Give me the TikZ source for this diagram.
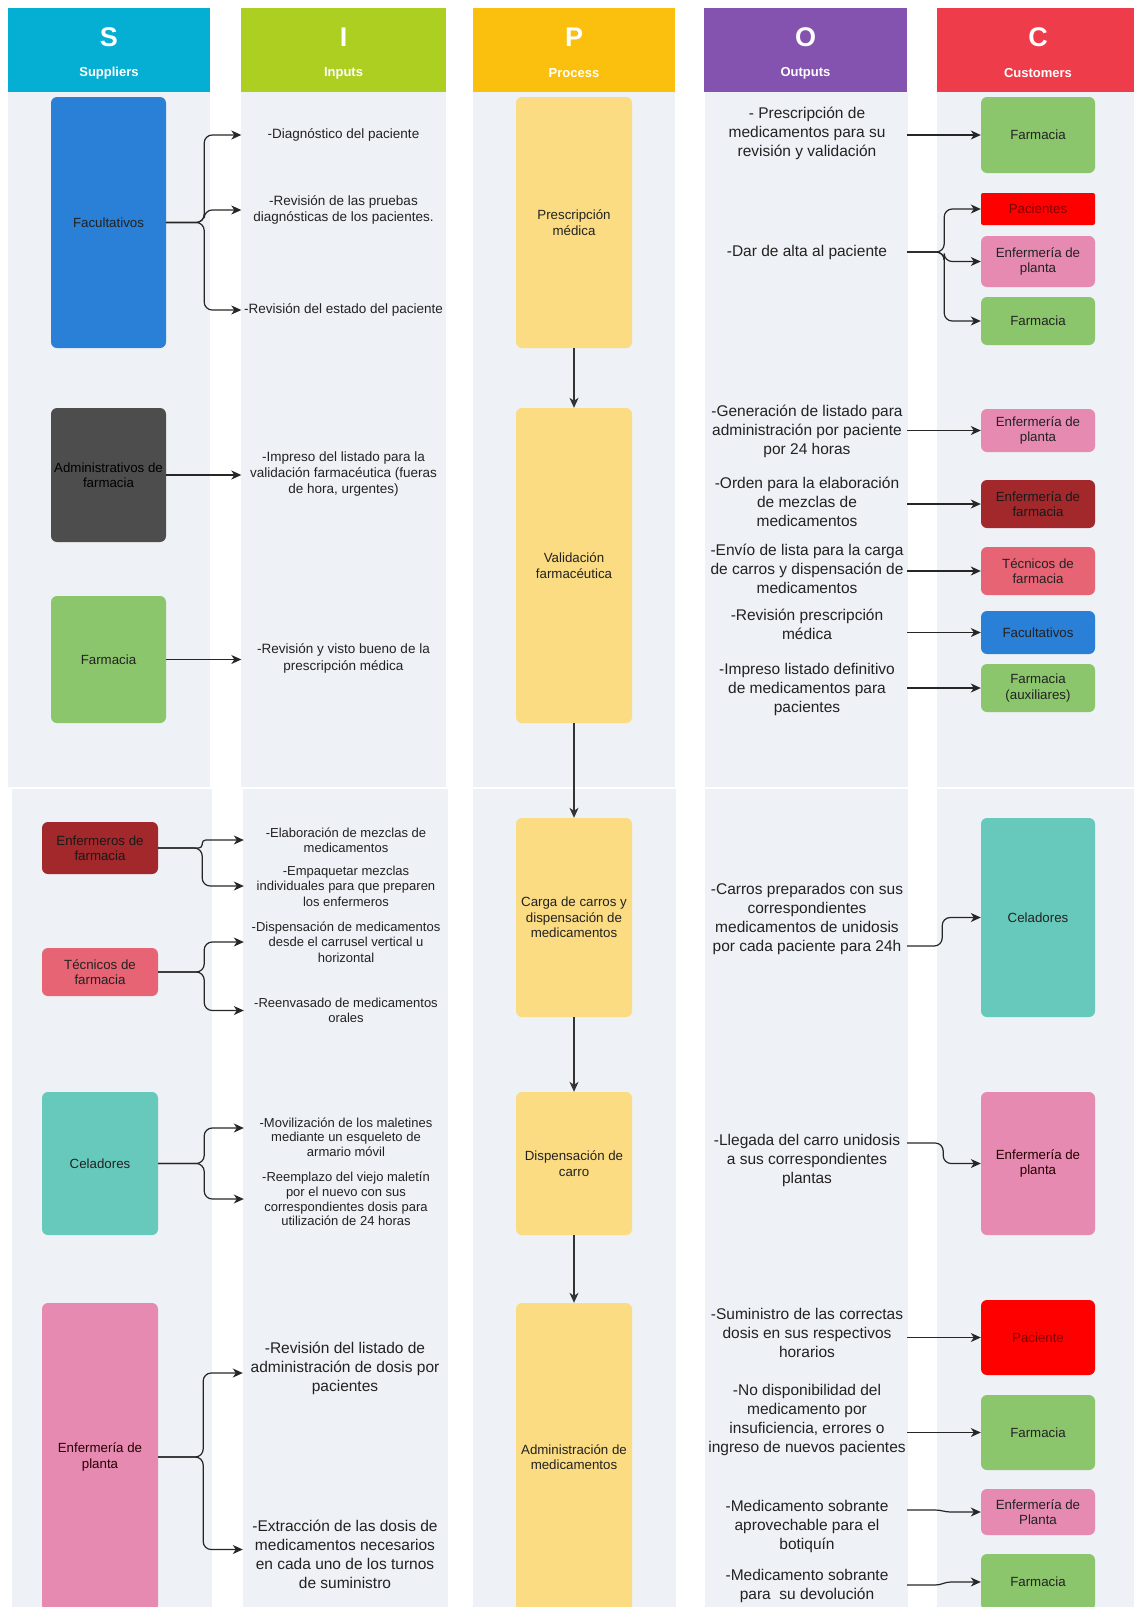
\documentclass[tikz,border=0pt]{standalone}
\usepackage{fontspec}
\setmainfont{Liberation Sans}
\usetikzlibrary{arrows.meta,calc}
\definecolor{cS}{HTML}{05AFD3}
\definecolor{cI}{HTML}{ADCF22}
\definecolor{cP}{HTML}{FBBF0E}
\definecolor{cO}{HTML}{8453B0}
\definecolor{cC}{HTML}{EF3C4A}
\definecolor{panelc}{HTML}{EEF1F5}
\definecolor{cblue}{HTML}{2A7FD6}
\definecolor{cdgray}{HTML}{4D4D4D}
\definecolor{cgreen}{HTML}{8CC66C}
\definecolor{cdred}{HTML}{A3282B}
\definecolor{ctred}{HTML}{E66474}
\definecolor{cteal}{HTML}{66C9BB}
\definecolor{cpink}{HTML}{E68AB2}
\definecolor{cyel}{HTML}{FBDC82}
\definecolor{cred}{HTML}{FF0000}
\definecolor{txt}{HTML}{222222}
\begin{document}
\begin{tikzpicture}[x=1pt,y=-1pt]
\tikzset{
 hdr/.style={rectangle, inner sep=0pt, minimum width=202pt, minimum height=84pt, draw=none},
 hletter/.style={text=white, font=\fontsize{27}{30}\selectfont\bfseries, inner sep=0pt},
 hlabel/.style={text=white, font=\fontsize{13}{15}\selectfont\bfseries, inner sep=0pt},
 box/.style={rectangle, rounded corners=6pt, inner sep=1pt, align=center, font=\fontsize{13.3}{15.5}\selectfont, text=txt, minimum width=115pt},
 intext/.style={align=center, inner sep=0pt, minimum width=204pt, font=\fontsize{13.5}{16.4}\selectfont, text=txt},
 intextb/.style={align=center, inner sep=0pt, minimum width=204pt, font=\fontsize{13}{15.4}\selectfont, text=txt},
 intextc/.style={align=center, inner sep=0pt, minimum width=204pt, font=\fontsize{13}{14.6}\selectfont, text=txt},
 intextd/.style={align=center, inner sep=0pt, minimum width=204pt, font=\fontsize{15.5}{19}\selectfont, text=txt},
 outtext/.style={align=center, inner sep=0pt, minimum width=200pt, font=\fontsize{15.5}{19}\selectfont, text=txt},
 conn/.style={draw=black!85, line width=1.2pt, -{Stealth[length=10pt,width=9pt,inset=3pt]}, rounded corners=8pt},
}
\useasboundingbox (0,0) rectangle (1134,1607);
\clip (0,0) rectangle (1134,1607);
% panels
\fill[panelc] (8,92) rectangle (210,787);
\fill[panelc] (241,92) rectangle (446,787);
\fill[panelc] (473,92) rectangle (675,787);
\fill[panelc] (705,92) rectangle (908,787);
\fill[panelc] (937,92) rectangle (1140,787);
\fill[panelc] (12,789) rectangle (212,1620);
\fill[panelc] (243,789) rectangle (448,1620);
\fill[panelc] (473,789) rectangle (676,1620);
\fill[panelc] (705,789) rectangle (908,1620);
\fill[panelc] (937,789) rectangle (1140,1620);
% headers
\node[hdr, fill=cS] (hS) at (109,50) {};
\node[hdr, fill=cI, minimum width=205pt] (hI) at (343.5,50) {};
\node[hdr, fill=cP] (hP) at (574,50) {};
\node[hdr, fill=cO, minimum width=203pt] (hO) at (805.5,50) {};
\node[hdr, fill=cC] (hC) at (1038,50) {};
\node[hletter] (lS) at ($(hS.center)+(0,-13)$) {S};
\node[hlabel] (tS) at ($(hS.center)+(0,23)$) {Suppliers};
\node[hletter] (lI) at ($(hI.center)+(0,-13)$) {I};
\node[hlabel] (tI) at ($(hI.center)+(0,23)$) {Inputs};
\node[hletter] (lP) at ($(hP.center)+(0,-13)$) {P};
\node[hlabel] (tP) at ($(hP.center)+(0,23)$) {Process};
\node[hletter] (lO) at ($(hO.center)+(0,-13)$) {O};
\node[hlabel] (tO) at ($(hO.center)+(0,23)$) {Outputs};
\node[hletter] (lC) at ($(hC.center)+(0,-13)$) {C};
\node[hlabel] (tC) at ($(hC.center)+(0,23)$) {Customers};
% suppliers
\node[box, fill=cblue, minimum height=251pt] (s1) at (108.5,222.5) {Facultativos};
\node[box, fill=cdgray, minimum height=134pt, text=black] (s2) at (108.5,475) {Administrativos de\\farmacia};
\node[box, fill=cgreen, minimum height=127pt] (s3) at (108.5,659.5) {Farmacia};
\node[box, fill=cdred, minimum width=116pt, minimum height=52pt, text=black!90] (s4) at (100,848) {Enfermeros de\\farmacia};
\node[box, fill=ctred, minimum width=116pt, minimum height=48pt] (s5) at (100,972) {Técnicos de\\farmacia};
\node[box, fill=cteal, minimum width=116pt, minimum height=143pt] (s6) at (100,1163.5) {Celadores};
\node[box, fill=cpink, minimum width=116pt, minimum height=308pt, text=black!85!red] (s7) at (100,1457) {Enfermería de\\planta};
% process
\node[box, fill=cyel, minimum width=116pt, minimum height=251pt] (p1) at (574,222.5) {Prescripción\\médica};
\node[box, fill=cyel, minimum width=116pt, minimum height=315pt] (p2) at (574,565.5) {Validación\\farmacéutica};
\node[box, fill=cyel, minimum width=116pt, minimum height=199pt] (p3) at (574,917.5) {Carga de carros y\\dispensación de\\medicamentos};
\node[box, fill=cyel, minimum width=116pt, minimum height=143pt] (p4) at (574,1163.5) {Dispensación de\\carro};
\node[box, fill=cyel, minimum width=116pt, minimum height=308pt] (p5) at (574,1457) {Administración de\\medicamentos};
% customers
\node[box, fill=cgreen, minimum width=114pt, minimum height=76pt] (c1) at (1038,135) {Farmacia};
\node[box, fill=cred, minimum width=114pt, minimum height=32pt, rounded corners=2pt, text=red!50!black] (c2) at (1038,209) {Pacientes};
\node[box, fill=cpink, minimum width=114pt, minimum height=51pt] (c3) at (1038,261.5) {Enfermería de\\planta};
\node[box, fill=cgreen, minimum width=114pt, minimum height=48pt] (c4) at (1038,321) {Farmacia};
\node[box, fill=cpink, minimum width=114pt, minimum height=43pt] (c5) at (1038,430.5) {Enfermería de\\planta};
\node[box, fill=cdred, minimum width=114pt, minimum height=48pt, text=black!90] (c6) at (1038,504) {Enfermería de\\farmacia};
\node[box, fill=ctred, minimum width=114pt, minimum height=48pt] (c7) at (1038,571) {Técnicos de\\farmacia};
\node[box, fill=cblue, minimum width=114pt, minimum height=43pt] (c8) at (1038,632.5) {Facultativos};
\node[box, fill=cgreen, minimum width=114pt, minimum height=48pt] (c9) at (1038,688) {Farmacia\\(auxiliares)};
\node[box, fill=cteal, minimum width=114pt, minimum height=199pt] (c10) at (1038,917.5) {Celadores};
\node[box, fill=cpink, minimum width=114pt, minimum height=143pt, text=black!85!red] (c11) at (1038,1163.5) {Enfermería de\\planta};
\node[box, fill=cred, minimum width=114pt, minimum height=75pt, text=red!50!black] (c12) at (1038,1337.5) {Paciente};
\node[box, fill=cgreen, minimum width=114pt, minimum height=75pt] (c13) at (1038,1432.5) {Farmacia};
\node[box, fill=cpink, minimum width=114pt, minimum height=46pt] (c14) at (1038,1512) {Enfermería de\\Planta};
\node[box, fill=cgreen, minimum width=114pt, minimum height=56pt] (c15) at (1038,1582) {Farmacia};
% inputs
\node[intext] (i1) at (343.5,135) {-Diagnóstico del paciente};
\node[intext] (i2) at (343.5,210) {-Revisión de las pruebas\\diagnósticas de los pacientes.};
\node[intext] (i3) at (343.5,310) {-Revisión del estado del paciente};
\node[intext] (i4) at (343.5,474) {-Impreso del listado para la\\validación farmacéutica (fueras\\de hora, urgentes)};
\node[intext] (i5) at (343.5,658.5) {-Revisión y visto bueno de la\\prescripción médica};
\node[intextb] (i6) at (346,840) {-Elaboración de mezclas de\\medicamentos};
\node[intextb] (i7) at (346,886) {-Empaquetar mezclas\\individuales para que preparen\\los enfermeros};
\node[intextb] (i8) at (346,942) {-Dispensación de medicamentos\\desde el carrusel vertical u\\horizontal};
\node[intextb] (i9) at (346,1010.5) {-Reenvasado de medicamentos\\orales};
\node[intextc] (i10) at (346,1137) {-Movilización de los maletines\\mediante un esqueleto de\\armario móvil};
\node[intextc] (i11) at (346,1199) {-Reemplazo del viejo maletín\\por el nuevo con sus\\correspondientes dosis para\\utilización de 24 horas};
\node[intextd] (i12) at (345,1368) {-Revisión del listado de\\administración de dosis por\\pacientes};
\node[intextd] (i13) at (345,1554.5) {-Extracción de las dosis de\\medicamentos necesarios\\en cada uno de los turnos\\de suministro};
% outputs
\node[outtext] (o1) at (807,133) {- Prescripción de\\medicamentos para su\\revisión y validación};
\node[outtext] (o2) at (807,252) {-Dar de alta al paciente};
\node[outtext] (o3) at (807,431) {-Generación de listado para\\administración por paciente\\por 24 horas};
\node[outtext] (o4) at (807,502) {-Orden para la elaboración\\de mezclas de\\medicamentos};
\node[outtext] (o5) at (807,569) {-Envío de lista para la carga\\de carros y dispensación de\\medicamentos};
\node[outtext] (o6) at (807,624.5) {-Revisión prescripción\\médica};
\node[outtext] (o7) at (807,689) {-Impreso listado definitivo\\de medicamentos para\\pacientes};
\node[outtext] (o8) at (807,919) {-Carros preparados con sus\\correspondientes\\medicamentos de unidosis\\por cada paciente para 24h};
\node[outtext] (o9) at (807,1160) {-Llegada del carro unidosis\\a sus correspondientes\\plantas};
\node[outtext] (o10) at (807,1333) {-Suministro de las correctas\\dosis en sus respectivos\\horarios};
\node[outtext] (o11) at (807,1420) {-No disponibilidad del\\medicamento por\\insuficiencia, errores o\\ingreso de nuevos pacientes};
\node[outtext] (o12) at (807,1526) {-Medicamento sobrante\\aprovechable para el\\botiquín};
\node[outtext] (o13) at (807,1586) {-Medicamento sobrante\\para\ \ su devolución};
% supplier -> input connectors
\draw[conn] (s1.east) -- ++(38,0) |- (i1.west);
\draw[conn] (s1.east) -- ++(38,0) |- (i2.west);
\draw[conn] (s1.east) -- ++(38,0) |- (i3.west);
\draw[conn] (s2.east) -- (s2.east -| i4.west);
\draw[conn] (s3.east) -- (s3.east -| i5.west);
\draw[conn, rounded corners=3.5pt] (s4.east) -- ++(44,0) |- (i6.west);
\draw[conn] (s4.east) -- ++(44,0) |- (i7.west);
\draw[conn] (s5.east) -- ++(46,0) |- (i8.west);
\draw[conn] (s5.east) -- ++(46,0) |- (i9.west);
\draw[conn] (s6.east) -- ++(46,0) |- ($(i10.west)+(0,-9)$);
\draw[conn] (s6.east) -- ++(46,0) |- (i11.west);
\draw[conn] (s7.east) -- ++(45,0) |- ($(i12.west)+(0,5)$);
\draw[conn] (s7.east) -- ++(45,0) |- ($(i13.west)+(0,-5)$);
% process flow
\draw[conn, draw=black!80] (p1.south) -- (p2.north);
\draw[conn, draw=black!80] (p2.south) -- (p3.north);
\draw[conn, draw=black!80] (p3.south) -- (p4.north);
\draw[conn, draw=black!80] (p4.south) -- (p5.north);
% output -> customer connectors
\draw[conn] (c1.west -| o1.east) -- (c1.west);
\draw[conn] (o2.east) -- ++(37,0) |- (c2.west);
\draw[conn] (o2.east) -- ++(37,0) |- (c3.west);
\draw[conn] (o2.east) -- ++(37,0) |- (c4.west);
\draw[conn] (c5.west -| o3.east) -- (c5.west);
\draw[conn] (c6.west -| o4.east) -- (c6.west);
\draw[conn] (c7.west -| o5.east) -- (c7.west);
\draw[conn] (c8.west -| o6.east) -- (c8.west);
\draw[conn] (c9.west -| o7.east) -- (c9.west);
\draw[conn] ($(o8.east)+(0,27)$) -- ++(35,0) |- (c10.west);
\draw[conn] ($(o9.east)+(0,-17)$) -- ++(36,0) |- (c11.west);
\draw[conn] (c12.west -| o10.east) -- (c12.west);
\draw[conn] (c13.west -| o11.east) -- (c13.west);
\draw[conn, rounded corners=0pt] ($(o12.east)+(0,-16)$) -- ++(28,0) to[out=0,in=180] ($(c14.west)+(-30,0)$) -- (c14.west);
\draw[conn, rounded corners=0pt] ($(o13.east)+(0,-1)$) -- ++(28,0) to[out=0,in=180] ($(c15.west)+(-30,0)$) -- (c15.west);
\end{tikzpicture}
\end{document}
